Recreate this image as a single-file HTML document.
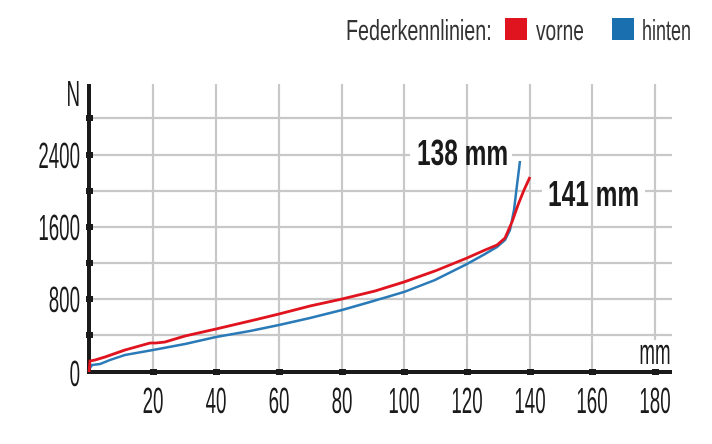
<!DOCTYPE html>
<html><head><style>
body{margin:0;background:#fff;}
svg text{font-family:"Liberation Sans Narrow","Liberation Sans",sans-serif;}
</style></head><body>
<svg width="712" height="439" viewBox="0 0 712 439" xmlns="http://www.w3.org/2000/svg">
<g stroke="#c8c8c8" stroke-width="2.2">
<line x1="153" y1="84" x2="153" y2="372"/><line x1="216" y1="84" x2="216" y2="372"/>
<line x1="279" y1="84" x2="279" y2="372"/><line x1="342" y1="84" x2="342" y2="372"/>
<line x1="404" y1="84" x2="404" y2="372"/><line x1="467" y1="84" x2="467" y2="372"/>
<line x1="530" y1="84" x2="530" y2="372"/><line x1="592" y1="84" x2="592" y2="372"/>
<line x1="655" y1="84" x2="655" y2="340"/>
<line x1="89" y1="118" x2="672" y2="118"/>
<line x1="89" y1="155" x2="410" y2="155"/><line x1="512" y1="155" x2="672" y2="155"/>
<line x1="89" y1="191" x2="542" y2="191"/><line x1="645" y1="191" x2="672" y2="191"/>
<line x1="89" y1="227" x2="672" y2="227"/><line x1="89" y1="263" x2="672" y2="263"/>
<line x1="89" y1="299" x2="672" y2="299"/><line x1="89" y1="335" x2="672" y2="335"/>
</g>
<g stroke="#1a1a1a" stroke-width="4">
<line x1="89" y1="84" x2="89" y2="374"/><line x1="87" y1="372" x2="672" y2="372"/>
</g>
<g fill="#1a1a1a">
<rect x="86" y="115" width="7" height="6"/><rect x="86" y="152" width="7" height="6"/>
<rect x="86" y="188" width="7" height="6"/><rect x="86" y="224" width="7" height="6"/>
<rect x="86" y="260" width="7" height="6"/><rect x="86" y="296" width="7" height="6"/>
<rect x="86" y="332" width="7" height="6"/>
<rect x="150" y="369" width="7" height="6"/><rect x="213" y="369" width="7" height="6"/>
<rect x="276" y="369" width="7" height="6"/><rect x="339" y="369" width="7" height="6"/>
<rect x="401" y="369" width="7" height="6"/><rect x="464" y="369" width="7" height="6"/>
<rect x="527" y="369" width="7" height="6"/><rect x="589" y="369" width="7" height="6"/>
<rect x="652" y="369" width="7" height="6"/>
</g>
<polyline fill="none" stroke="#2a7ab8" stroke-width="2.5" points="90,368 92,365 100,364 110,360 125,355 153,350 185,344 216,337 250,331 279,325 310,318 342,310 370,302 404,292 435,280 467,264 485,254 497,247 505,240 510,230 514,210 517,185 520,161"/>
<polyline fill="none" stroke="#e0141e" stroke-width="2.8" points="89,372 90,361 95,360 105,357 125,350 150,343 156,343 165,342 185,336 216,329 250,321 279,314 310,306 342,299 375,291 404,282 435,271 467,258 485,250 497,245 505,238 512,222 518,205 524,190 530,177"/>
<g fill="#1a1a1a" font-size="36" text-anchor="end">
<text transform="translate(80 168) scale(0.52 1)">2400</text>
<text transform="translate(80 240) scale(0.52 1)">1600</text>
<text transform="translate(80 312) scale(0.52 1)">800</text>
<text transform="translate(80 386) scale(0.52 1)">0</text>
<text transform="translate(80 106) scale(0.52 1)">N</text>
</g>
<g fill="#1a1a1a" font-size="36" text-anchor="middle">
<text transform="translate(153 413) scale(0.52 1)">20</text>
<text transform="translate(216 413) scale(0.52 1)">40</text>
<text transform="translate(279 413) scale(0.52 1)">60</text>
<text transform="translate(342 413) scale(0.52 1)">80</text>
<text transform="translate(404 413) scale(0.52 1)">100</text>
<text transform="translate(467 413) scale(0.52 1)">120</text>
<text transform="translate(530 413) scale(0.52 1)">140</text>
<text transform="translate(592 413) scale(0.52 1)">160</text>
<text transform="translate(655 413) scale(0.52 1)">180</text>
<text transform="translate(655 364) scale(0.52 1)">mm</text>
</g>
<g fill="#1a1a1a" font-size="36" font-weight="bold">
<text transform="translate(417 165) scale(0.68 1)">138 mm</text>
<text transform="translate(548 206) scale(0.68 1)">141 mm</text>
</g>
<g fill="#333" font-size="29">
<text transform="translate(346 40) scale(0.68 1)">Federkennlinien:</text>
<text transform="translate(536 40) scale(0.66 1)">vorne</text>
<text transform="translate(642 40) scale(0.62 1)">hinten</text>
</g>
<rect x="505" y="18" width="22" height="22" fill="#e0141e"/>
<rect x="612" y="18" width="22" height="22" fill="#1a6fae"/>
</svg>
</body></html>
